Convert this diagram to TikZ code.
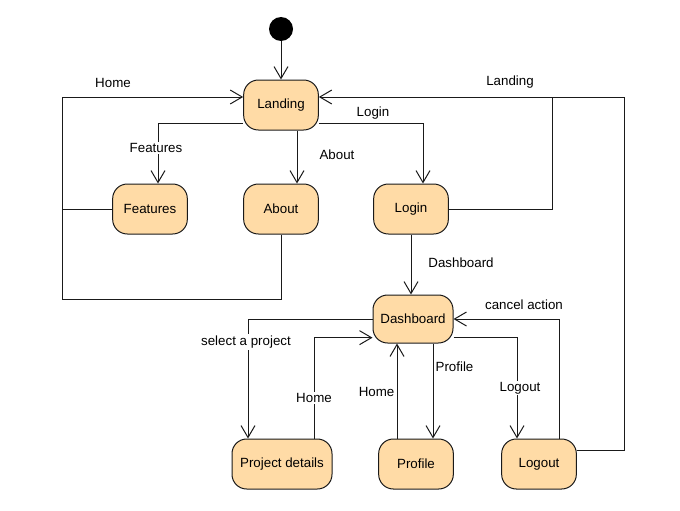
\documentclass[tikz,border=0pt]{standalone}
\usepackage{fontspec}
\setmainfont{Liberation Sans}
\usetikzlibrary{arrows.meta,positioning,calc}
\definecolor{statefill}{HTML}{FFDBA6}
\definecolor{stroke}{HTML}{1A1A1A}
\begin{document}
\begin{tikzpicture}[
  x=0.75pt, y=-0.75pt,
  every node/.style={font=\fontsize{10}{12}\selectfont, text=black},
  state/.style={rounded corners=11pt, draw=stroke, line width=0.75pt, fill=statefill,
     align=center, inner sep=2pt, minimum height=37.5pt, minimum width=56pt},
  start/.style={circle, fill=black, minimum size=18pt, inner sep=0pt},
  lbl/.style={fill=white, inner sep=1pt},
  arr/.style={-{Straight Barb[length=9pt,width=10.5pt]}, line width=0.75pt, draw=stroke},
  bus/.style={line width=0.75pt, draw=stroke},
]
\useasboundingbox (0,0) rectangle (680,510);
% --- columns ---
\def\xl{150}  \def\xm{281}  \def\xr{411}
% --- start and top states ---
\node[start] (init) at (\xm,29) {};
\node[state] (land)  at (\xm,105) {Landing};
\node[state] (feat)  at (\xl,209) {Features};
\node[state] (about) at (\xm,209) {About};
\node[state] (login) at (\xr,209) {Login};
% --- dashboard and its states ---
\node[state, minimum width=60pt, minimum height=36pt] (dash) at (413,319) {Dashboard};
\node[state, minimum width=75pt] (proj)   at (282,464) {Project details};
\node[state] (prof)   at (416,464) {Profile};
\node[state] (logout) at (539,464) {Logout};
% --- bends of the return lines ---
\coordinate (homel) at (62,97);
\coordinate (homeb) at (62,299);
\coordinate (landr) at (552,97);
\coordinate (landrr) at (624,97);
% --- arrows ---
\draw[arr] (init) -- (land);
% back to landing, left side
\draw[arr] (feat.west) -| (homel) -- ([yshift=6pt]land.west);
\draw[bus] (about.south) |- (homeb) -- (homel);
\node at (113,83) {Home};
% landing -> pages
\draw[arr] ([yshift=-14pt]land.west) -| ([xshift=6pt]feat.north);
\node[lbl] at (156,148) {Features};
\draw[arr] ([xshift=12pt]land.south) -- ([xshift=12pt]about.north);
\node at (337,155) {About};
\draw[arr] ([yshift=-14pt]land.east) -| ([xshift=9pt]login.north);
\node at (373,113) {Login};
% back to landing, right side
\draw[arr] (login.east) -| (landr) -- ([yshift=6pt]land.east);
\draw[bus] ([yshift=10.5pt]logout.east) -| (landrr) -- (landr);
\node at (510,82) {Landing};
% login -> dashboard
\draw[arr] (login) -- (login |- dash.north);
\node at (461,263) {Dashboard};
% dashboard <-> project details
\draw[arr] (dash.west) -| ([xshift=-25.5pt]proj.north);
\node[lbl] at (246,342) {select a project};
\draw[arr] ([xshift=24pt]proj.north) |- ([yshift=-14pt]dash.west);
\node[lbl] at (314,398) {Home};
% dashboard <-> profile
\draw[arr] ([xshift=-14.25pt]prof.north) -- ([xshift=-14.25pt]prof.north |- dash.south);
\node[lbl, anchor=east] at (396,392) {Home};
\draw[arr] ([xshift=15pt]dash.south) -- ([xshift=15pt]dash.south |- prof.north);
\node[lbl, anchor=west] at (434,367) {Profile};
% dashboard <-> logout
\draw[arr] ([yshift=-13.5pt]dash.east) -| ([xshift=-16.5pt]logout.north);
\node[lbl] at (520,388) {Logout};
\draw[arr] ([xshift=15pt]logout.north) |- (dash.east);
\node at (524,305) {cancel action};
\end{tikzpicture}
\end{document}
